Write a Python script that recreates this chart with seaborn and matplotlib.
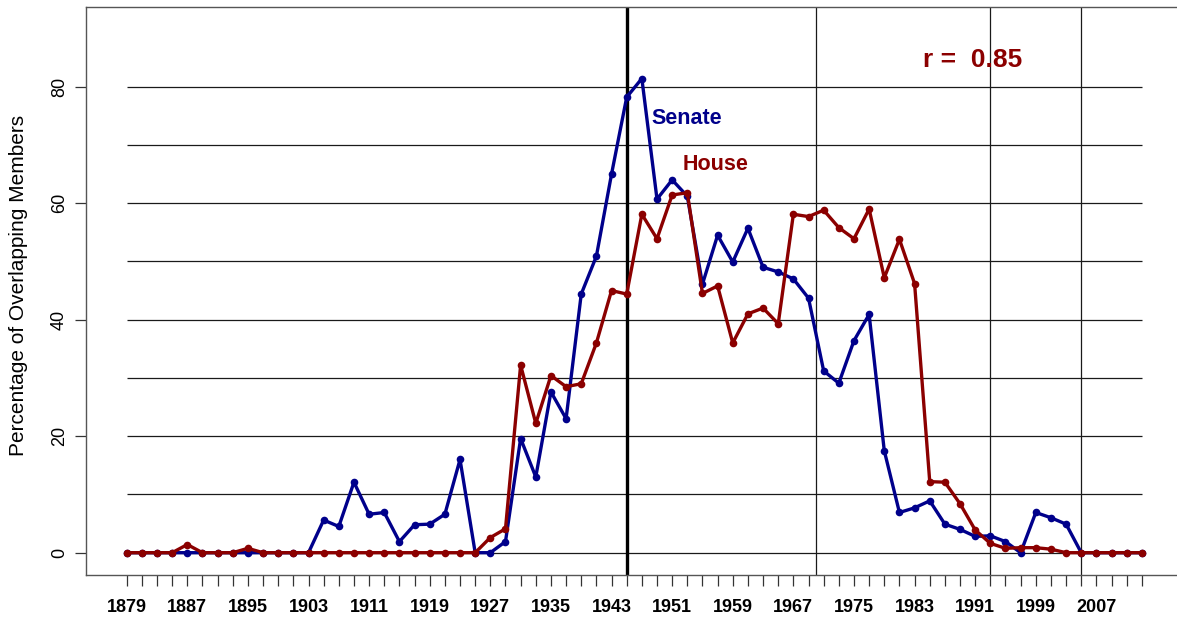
import matplotlib
matplotlib.use("Agg")
import matplotlib.pyplot as plt
import seaborn as sns
import pandas as pd

years = [1879, 1881, 1883, 1885, 1887, 1889, 1891, 1893, 1895, 1897,
         1899, 1901, 1903, 1905, 1907, 1909, 1911, 1913, 1915, 1917,
         1919, 1921, 1923, 1925, 1927, 1929, 1931, 1933, 1935, 1937,
         1939, 1941, 1943, 1945, 1947, 1949, 1951, 1953, 1955, 1957,
         1959, 1961, 1963, 1965, 1967, 1969, 1971, 1973, 1975, 1977,
         1979, 1981, 1983, 1985, 1987, 1989, 1991, 1993, 1995, 1997,
         1999, 2001, 2003, 2005, 2007, 2009, 2011, 2013]

senate = [0, 0, 0, 0, 0, 0, 0, 0, 0, 0,
          0, 0, 0, 5.6, 4.5, 12.1, 6.6, 6.9, 1.9, 4.8,
          4.9, 6.6, 16.0, 0, 0, 1.9, 19.6, 13.0, 27.6, 23.0,
          44.4, 50.9, 65.0, 78.2, 81.4, 60.7, 64.0, 61.2, 46.1, 54.5,
          49.9, 55.7, 49.0, 48.2, 47.0, 43.7, 31.2, 29.1, 36.4, 40.9,
          17.5, 6.9, 7.7, 8.9, 4.9, 4.0, 2.8, 2.9, 1.9, 0,
          6.9, 6.0, 4.9, 0, 0, 0, 0, 0]

house = [0, 0, 0, 0, 1.4, 0, 0, 0, 0.75, 0,
         0, 0, 0, 0, 0, 0, 0, 0, 0, 0,
         0, 0, 0, 0, 2.6, 4.1, 32.2, 22.2, 30.4, 28.5,
         29.0, 36.0, 45.0, 44.4, 58.1, 53.9, 61.4, 61.8, 44.5, 45.8,
         36.0, 41.0, 42.0, 39.3, 58.1, 57.7, 58.8, 55.8, 53.9, 59.0,
         47.2, 53.8, 46.2, 12.2, 12.1, 8.4, 3.9, 1.6, 0.75, 0.86,
         0.86, 0.6, 0, 0, 0, 0, 0, 0]

chambers = ["Senate", "House"]
y_ticks = [0, 20, 40, 60, 80]
grid_levels = [0, 10, 20, 30, 40, 50, 60, 70, 80]
ref_years_thin = [1970, 1993, 2005]
ref_year_thick = 1945

senate_col = "#00008B"
house_col = "#8B0000"

df = pd.DataFrame({
    "year": years * 2,
    "pct": senate + house,
    "chamber": ["Senate"] * len(years) + ["House"] * len(years),
})

sns.set_style("white")
plt.rcParams["font.family"] = ["Liberation Sans", "DejaVu Sans"]

fig = plt.figure(figsize=(11.77, 6.19), dpi=100)
ax = fig.add_axes([86 / 1177, (619 - 575) / 619, 1097 / 1177, 568 / 619])

ax.set_xlim(1873.63, 2018.43)
ax.set_ylim(-3.83, 93.68)

# horizontal reference lines
ax.hlines(grid_levels, years[0], years[-1], colors="#1a1a1a", linewidth=0.9, zorder=1)
# vertical reference lines
for yr in ref_years_thin:
    ax.axvline(yr, color="#1a1a1a", linewidth=0.9, zorder=1)
ax.axvline(ref_year_thick, color="black", linewidth=2.4, zorder=1)

sns.lineplot(data=df, x="year", y="pct", hue="chamber", hue_order=chambers,
             palette={"Senate": senate_col, "House": house_col},
             marker="o", markersize=5.5, markeredgewidth=0, linewidth=2.4,
             legend=False, ax=ax, zorder=3)

# ticks
ax.set_xticks(years)
ax.set_xticklabels([str(y) if i % 4 == 0 else "" for i, y in enumerate(years)],
                   fontweight="bold", fontsize=13)
ax.set_yticks(y_ticks)
ax.set_yticklabels([str(v) for v in y_ticks], rotation=90, va="center", fontsize=13)
ax.tick_params(axis="x", direction="out", length=8, width=0.9, color="#333333",
               pad=9.5, bottom=True, labelcolor="black")
ax.tick_params(axis="y", direction="out", length=8, width=0.9, color="#333333",
               pad=5, left=True, labelcolor="black")

ax.set_xlabel("")
ax.set_ylabel("Percentage of Overlapping Members", fontsize=15, color="black")
ax.yaxis.set_label_coords(-0.0529, 0.5097)

for side in ["left", "top", "bottom", "right"]:
    ax.spines[side].set_color("#555555")
    ax.spines[side].set_linewidth(1.0)

ax.text(1990.7, 84.6, "r =  0.85", color=house_col, fontsize=19,
        fontweight="bold", ha="center", va="center")
ax.text(1948.3, 74.6, "Senate", color=senate_col, fontsize=15.5,
        fontweight="bold", ha="left", va="center")
ax.text(1952.4, 66.6, "House", color=house_col, fontsize=15.5,
        fontweight="bold", ha="left", va="center")

fig.savefig("out.png", dpi=100)
